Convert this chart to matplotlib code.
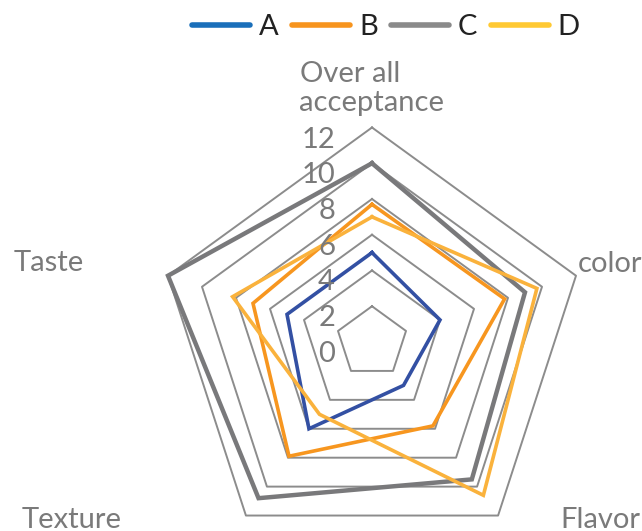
import numpy as np
import matplotlib
matplotlib.use("Agg")
import matplotlib.pyplot as plt
from matplotlib.lines import Line2D

# categories go clockwise starting at the top
categories = ["Over all\nacceptance", "color", "Flavor", "Texture", "Taste"]
series_names = ["A", "B", "C", "D"]
A = [5.0, 4.0, 3.0, 6.0, 5.0]
B = [7.7, 7.8, 5.8, 7.9, 7.0]
C = [10.0, 9.0, 9.5, 10.8, 12.0]
D = [7.0, 9.7, 10.6, 5.0, 8.2]
ticks = [0, 2, 4, 6, 8, 10, 12]

line_colors = ["#3350a3", "#f7961f", "#79797b", "#fab23c"]
legend_colors = ["#1a6fba", "#f7941d", "#8a8a8a", "#ffc933"]
line_widths = [2.6, 2.6, 3.2, 2.6]
txt_gray = "#7a7a7a"
fs = 21

plt.rcParams['font.family'] = ['Lato', 'DejaVu Sans']

fig = plt.figure(figsize=(6.42, 5.31), dpi=100)
# center of the radar at ~(372, 342) px, outer radius ~214.5 px
cx, cy, R = 372 / 642, 1 - 342 / 531, 214.5
ax = fig.add_axes([cx - R / 642, cy - R / 531, 2 * R / 642, 2 * R / 531], polar=True)
ax.set_theta_offset(np.pi / 2)
ax.set_theta_direction(-1)
ax.set_ylim(0, 12)
ax.axis("off")

n = len(categories)
theta = np.linspace(0, 2 * np.pi, n, endpoint=False)
theta_c = np.append(theta, theta[0])

# pentagon grid
for t in ticks[1:]:
    ax.plot(theta_c, [t] * (n + 1), color="#8c8c8c", lw=1.4, clip_on=False, zorder=1)

for vals, col, lw in zip([A, B, C, D], line_colors, line_widths):
    v = np.append(vals, vals[0])
    ax.plot(theta_c, v, color=col, lw=lw, clip_on=False, zorder=3,
            solid_joinstyle="miter")

# value labels along the top axis
for t in ticks:
    ax.annotate(str(t), xy=(0, t), xytext=(-37, -12), textcoords="offset pixels",
                ha="right", va="center", fontsize=fs, color=txt_gray,
                annotation_clip=False, zorder=4)

# category labels
offs = [(0, 12, "center", "bottom"), (2, 12, "left", "center"),
        (62, -4, "left", "center"), (-124, -4, "right", "center"),
        (-84, 13, "right", "center")]
for th, lab, (dx, dy, ha, va) in zip(theta, categories, offs):
    ax.annotate(lab, xy=(th, 12), xytext=(dx, dy), textcoords="offset pixels",
                ha=ha, va=va, fontsize=fs, color=txt_gray, multialignment="left",
                annotation_clip=False, linespacing=1.1)

handles = [Line2D([0], [0], color=c, lw=4, solid_capstyle="round") for c in legend_colors]
fig.legend(handles, series_names, loc="center", bbox_to_anchor=(0.601, 1 - 27 / 531),
           ncol=4, frameon=False, fontsize=fs, handlelength=2.0, handletextpad=0.3,
           columnspacing=0.45, labelcolor="#222222")

fig.savefig("out.png", dpi=100)
